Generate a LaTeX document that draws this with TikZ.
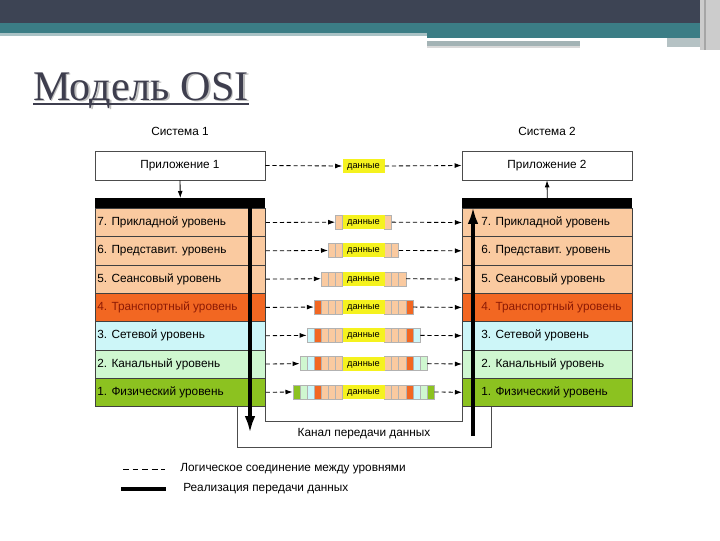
\documentclass[tikz,border=0pt]{standalone}
\usepackage{fontspec}
\setmainfont{Liberation Sans}
\newfontfamily\titlefont{Liberation Serif}
\usepackage{tikz}
\usetikzlibrary{arrows.meta,positioning,calc}

\definecolor{bandDark}{HTML}{3D4454}
\definecolor{bandTeal}{HTML}{3B7D85}
\definecolor{bandLight}{HTML}{A9C2C5}
\definecolor{bandGray}{HTML}{A3B3B5}
\definecolor{titlegray}{HTML}{3E3E4E}
\definecolor{peach}{HTML}{FACAA0}
\definecolor{transp}{HTML}{F26722}
\definecolor{netw}{HTML}{CDF6F8}
\definecolor{linkg}{HTML}{CFF7D0}
\definecolor{phys}{HTML}{8CC220}
\definecolor{datay}{HTML}{F5F21E}
\definecolor{transptext}{HTML}{8C1A05}
\colorlet{lay7}{peach}
\colorlet{lay6}{peach}
\colorlet{lay5}{peach}
\colorlet{lay4}{transp}
\colorlet{lay3}{netw}
\colorlet{lay2}{linkg}
\colorlet{lay1}{phys}

\begin{document}
\begin{tikzpicture}[x=0.025cm, y=-0.025cm, font=\fontsize{8.4}{10}\selectfont,
    layer/.style={draw=black!75, line width=0.5pt, anchor=north west, minimum width=4.25cm, minimum height=0.7075cm, inner sep=0pt},
    appbox/.style={draw=black!70, line width=0.5pt, fill=white, minimum width=4.25cm, minimum height=0.725cm},
    databox/.style={fill=datay, minimum width=1.05cm, minimum height=0.35cm, inner sep=0pt, text depth=0pt, font=\fontsize{6.6}{7}\selectfont},
    logic/.style={dash pattern=on 3pt off 2pt, line width=0.6pt, -{Latex[length=5pt,width=3.5pt]}},
    transfer/.style={line width=2.8pt, -{Latex[length=12pt,width=7.5pt]}}]
    \useasboundingbox (0,0) rectangle (720,540);
    % top band
    \fill[bandDark] (0,0) rectangle (720,23);
    \fill[bandTeal] (0,23) rectangle (700,33);
    \fill[bandLight] (0,33) rectangle (427,36);
    \fill[bandTeal] (427,33) rectangle (700,38);
    \fill[bandGray] (427,41) rectangle (580,46);
    \fill[black!15] (427,46) rectangle (580,48);
    \fill[bandGray!80] (667,38) rectangle (700,47);
    \fill[black!20] (700,0) rectangle (720,50);
    \fill[black!35] (704,0) rectangle (706,50);
    % title
    \node[anchor=base west, inner sep=0, text=black!25, font=\titlefont\fontsize{30}{30}\selectfont] at (34.5,101.5) {Модель OSI};
    \node[anchor=base west, inner sep=0, text=titlegray, font=\titlefont\fontsize{30}{30}\selectfont] (title) at (33,100) {Модель OSI};
    \draw[titlegray, line width=1.6pt] ($(title.base west)+(0,4)$) -- ($(title.base east)+(0,4)$);

    % channel
    \draw[black!70, line width=0.5pt] (237,406) -- (237,447) -- (491,447) -- (491,406);
    \draw[black!70, line width=0.5pt] (265,406) -- (265,421) -- (462,421) -- (462,406);
    \node (chan) at (364,434) {Канал передачи данных};

    % systems
    \node (S1) at (180,131) {Система 1};
    \node (S2) at (547,131) {Система 2};
    \node[appbox] (A1) at (180,165.5) {Приложение 1};
    \node[appbox] (A2) at (547,165.5) {Приложение 2};
    \node[fill=black, anchor=north west, minimum width=4.25cm, minimum height=0.25cm, inner sep=0] (bar1) at (95,198) {};
    \node[fill=black, anchor=north west, minimum width=4.25cm, minimum height=0.25cm, inner sep=0] (bar2) at (462,198) {};
    \draw[line width=0.6pt, -{Latex[length=5pt,width=3.5pt]}] (A1.south) -- (bar1.north);
    \draw[line width=0.6pt, -{Latex[length=5pt,width=3.5pt]}] (bar2.north) -- (A2.south);
    \node[databox] (D8) at (363.5,166) {данные};
    \draw[logic] (A1.east) -- (D8.west);
    \draw[logic] (D8.east) -- (A2.west);

    % layers and packets
    \foreach \n/\name/\tcol in {7/Прикладной уровень/black, 6/Представит. уровень/black, 5/Сеансовый уровень/black, 4/Транспортный уровень/transptext, 3/Сетевой уровень/black, 2/Канальный уровень/black, 1/Физический уровень/black} {
        \pgfmathsetmacro\ytop{208+(7-\n)*28.3}
        \pgfmathsetmacro\yc{\ytop+14.15}
        \pgfmathtruncatemacro\cells{8-\n}
        \pgfmathsetmacro\pw{(42+2*\cells*7.1)*0.025}
        \node[layer, fill=lay\n] (L\n) at (95,\ytop) {};
        \node[layer, fill=lay\n] (R\n) at (462,\ytop) {};
        \node[right=0.05cm of L\n.west, inner sep=0, text=\tcol] {\n. \name};
        \node[right=0.475cm of R\n.west, inner sep=0, text=\tcol] {\n. \name};
        \node[minimum width=\pw cm, minimum height=0.35cm, inner sep=0] (P\n) at (363.5,\yc) {};
        \foreach \k in {1,...,\cells} {
            \pgfmathtruncatemacro\m{8-\k}
            \filldraw[fill=lay\m, draw=black!30, line width=0.3pt] (342.5-\k*7.1,\yc-7) rectangle (349.6-\k*7.1,\yc+7);
            \filldraw[fill=lay\m, draw=black!30, line width=0.3pt] (377.4+\k*7.1,\yc-7) rectangle (384.5+\k*7.1,\yc+7);
        }
        \node[databox] (D\n) at (363.5,\yc) {данные};
        \draw[logic] (L\n.east) -- (P\n.west);
        \draw[logic] (P\n.east) -- (R\n.west);
    }

    % data flow
    \coordinate (sendTop) at (250,199);
    \coordinate (sendEnd) at (250,433);
    \coordinate (recvStart) at (473,436);
    \coordinate (recvTop) at (473,207);
    \draw[transfer] (sendTop) -- (sendEnd);
    \draw[transfer] (recvStart) -- (recvTop);

    % legend
    \coordinate (lg1a) at (123,469);
    \coordinate (lg1b) at (165,469);
    \coordinate (lg2a) at (121,489);
    \coordinate (lg2b) at (166,489);
    \draw[dash pattern=on 4.2pt off 2.6pt, line width=0.6pt] (lg1a) -- (lg1b);
    \draw[line width=2.8pt] (lg2a) -- (lg2b);
    \node[anchor=west, inner sep=0] (lgtext1) at (180,469) {Логическое соединение между уровнями};
    \node[anchor=west, inner sep=0] (lgtext2) at (183,489) {Реализация передачи данных};
\end{tikzpicture}
\end{document}
